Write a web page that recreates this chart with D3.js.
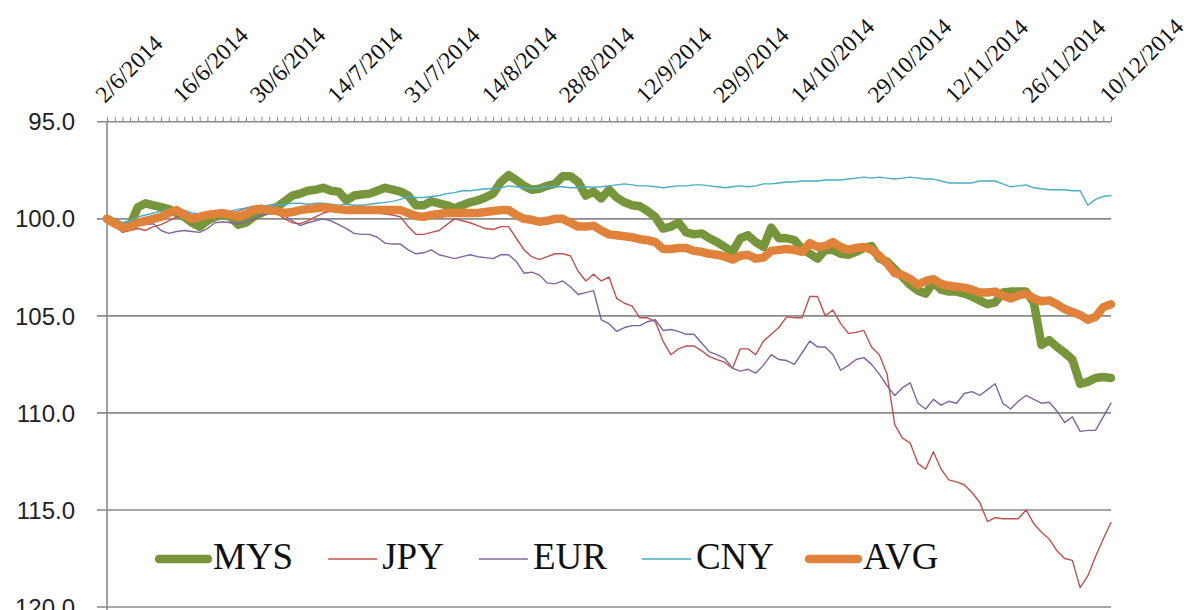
<!DOCTYPE html>
<html><head><meta charset="utf-8">
<script src="https://cdn.jsdelivr.net/npm/d3@7/dist/d3.min.js"></script>
<style>body{margin:0;background:#fff;} svg{display:block}</style>
</head><body><svg id="c" width="1189" height="610"></svg>
<script>
// ---- data ----
const tickLabels = ["2/6/2014","16/6/2014","30/6/2014","14/7/2014","31/7/2014","14/8/2014","28/8/2014",
  "12/9/2014","29/9/2014","14/10/2014","29/10/2014","12/11/2014","26/11/2014","10/12/2014"];
const labelEvery = 10;
const yTicks = [95, 100, 105, 110, 115, 120];
const seriesNames = ["MYS", "JPY", "EUR", "CNY", "AVG"];

const MYS = [100.0,100.2,100.4,100.3,99.4,99.2,99.3,99.4,99.5,99.7,
 99.9,100.2,100.4,100.1,99.9,99.8,99.9,100.3,100.2,99.9,
 99.7,99.5,99.4,99.1,98.8,98.7,98.55,98.5,98.4,98.55,
 98.6,99.05,98.8,98.75,98.7,98.55,98.4,98.5,98.6,98.8,
 99.3,99.3,99.1,99.2,99.3,99.45,99.3,99.15,99.05,98.9,
 98.7,98.1,97.75,98.0,98.3,98.5,98.45,98.3,98.2,97.8,
 97.8,98.1,98.8,98.6,98.95,98.5,98.9,99.15,99.3,99.35,
 99.6,99.9,100.5,100.4,100.2,100.7,100.8,100.75,101.0,101.2,
 101.45,101.7,101.0,100.85,101.2,101.45,100.45,101.0,101.0,101.1,
 101.55,101.8,102.05,101.6,101.6,101.8,101.85,101.7,101.5,101.4,
 102.05,102.2,102.6,103.0,103.4,103.7,103.85,103.25,103.65,103.75,
 103.75,103.85,104.0,104.2,104.4,104.3,103.8,103.75,103.75,103.75,
 104.3,106.5,106.25,106.6,106.9,107.25,108.5,108.4,108.2,108.15,108.2];

const JPY = [100.0,100.3,100.7,100.6,100.5,100.6,100.4,100.3,100.1,99.9,
 99.8,100.0,99.95,99.8,99.75,99.7,99.75,99.6,99.45,99.35,
 99.3,99.4,99.7,100.0,100.2,100.25,100.1,99.9,99.7,99.6,
 99.55,99.6,99.65,99.6,99.65,99.7,99.75,99.8,99.9,100.4,
 100.8,100.8,100.7,100.6,100.3,100.0,100.1,100.2,100.35,100.5,
 100.55,100.4,100.4,101.0,101.6,101.95,102.1,101.95,101.8,101.8,
 101.9,102.7,103.2,102.85,103.2,103.0,104.1,104.35,104.5,105.1,
 105.1,105.3,106.3,107.0,106.7,106.55,106.55,106.8,107.1,107.25,
 107.4,107.7,106.7,106.7,107.0,106.3,105.95,105.6,105.05,105.1,
 105.1,104.0,104.0,105.0,104.7,105.4,105.9,105.85,105.75,106.6,
 107.0,108.0,110.6,111.3,111.55,112.6,112.9,112.0,112.9,113.45,
 113.55,113.7,114.1,114.6,115.6,115.4,115.45,115.45,115.45,115.0,
 115.7,116.15,116.5,117.1,117.5,117.6,119.0,118.4,117.4,116.5,115.65];

const EUR = [100.0,100.25,100.45,100.5,100.35,100.3,100.25,100.6,100.75,100.65,
 100.6,100.65,100.7,100.5,100.2,100.15,100.2,100.25,100.15,100.0,
 99.8,99.75,99.7,99.85,100.1,100.35,100.2,100.1,100.0,100.1,
 100.3,100.5,100.75,100.8,100.8,100.95,101.25,101.3,101.3,101.6,
 101.8,101.75,101.6,101.85,101.95,102.05,101.95,101.85,101.95,102.0,
 102.05,101.85,101.85,102.2,102.8,102.75,102.9,103.3,103.35,103.2,
 103.5,103.9,103.8,103.7,105.2,105.4,105.8,105.6,105.5,105.5,
 105.3,105.2,105.75,105.7,105.8,105.95,105.95,106.4,106.85,107.0,
 107.2,107.7,107.85,107.75,107.95,107.55,107.0,107.25,107.3,107.5,
 106.9,106.3,106.6,106.6,107.0,107.8,107.55,107.25,107.15,107.5,
 108.0,108.6,109.1,108.7,108.45,109.5,109.8,109.3,109.6,109.4,
 109.5,109.0,108.9,109.1,108.8,108.5,109.5,109.8,109.4,109.1,
 109.3,109.5,109.45,109.9,110.5,110.2,110.95,110.9,110.9,110.2,109.5];

const CNY = [100.0,100.1,100.2,100.1,99.9,99.8,99.7,99.6,99.5,99.45,
 99.55,99.7,99.75,99.7,99.6,99.55,99.6,99.5,99.45,99.4,
 99.35,99.3,99.3,99.25,99.2,99.2,99.25,99.2,99.2,99.25,
 99.3,99.25,99.3,99.3,99.25,99.2,99.15,99.1,99.0,98.85,
 98.9,98.9,98.85,98.8,98.7,98.65,98.55,98.55,98.5,98.45,
 98.45,98.4,98.3,98.35,98.4,98.45,98.4,98.35,98.35,98.35,
 98.4,98.4,98.35,98.37,98.35,98.3,98.25,98.2,98.25,98.3,
 98.3,98.35,98.4,98.35,98.3,98.3,98.25,98.25,98.3,98.35,
 98.4,98.35,98.3,98.35,98.3,98.2,98.2,98.15,98.1,98.1,
 98.05,98.05,98.05,98.0,98.0,98.0,97.95,97.9,97.85,97.9,
 97.85,97.9,97.95,97.9,97.85,97.9,97.95,97.95,98.05,98.15,
 98.15,98.15,98.15,98.05,98.05,98.05,98.2,98.35,98.3,98.25,
 98.4,98.45,98.5,98.5,98.5,98.55,98.55,99.3,99.0,98.85,98.8];

const AVG = [100.0,100.25,100.45,100.4,100.2,100.1,100.0,99.9,99.7,99.55,
 99.8,100.0,99.9,99.8,99.75,99.7,99.8,99.9,99.75,99.55,
 99.5,99.55,99.6,99.7,99.65,99.55,99.5,99.45,99.4,99.45,
 99.5,99.55,99.55,99.55,99.55,99.55,99.55,99.55,99.55,99.7,
 99.85,99.9,99.8,99.75,99.7,99.7,99.7,99.7,99.7,99.65,
 99.6,99.55,99.55,99.8,100.0,100.05,100.15,100.1,100.0,100.0,
 100.2,100.4,100.4,100.35,100.6,100.8,100.85,100.9,100.95,101.05,
 101.1,101.2,101.55,101.55,101.5,101.5,101.65,101.7,101.8,101.85,
 101.95,102.1,101.9,101.85,102.05,102.0,101.65,101.6,101.55,101.6,
 101.7,101.25,101.45,101.4,101.2,101.45,101.6,101.5,101.45,101.6,
 101.9,102.3,102.8,102.9,103.1,103.4,103.2,103.1,103.35,103.45,
 103.5,103.55,103.65,103.8,103.8,103.75,103.95,104.1,103.95,103.85,
 104.1,104.25,104.2,104.4,104.65,104.8,104.95,105.2,105.05,104.55,104.4];

const seriesValues = [MYS, JPY, EUR, CNY, AVG];

// ---- styles ----
const styles = {
  MYS: {color: "#77953B", width: 8.5},
  JPY: {color: "#C0504D", width: 1.4},
  EUR: {color: "#8064A2", width: 1.4},
  CNY: {color: "#4BACC6", width: 1.4},
  AVG: {color: "#E1823A", width: 8.5}
};
const gridColor = "#8a8a8a";

const svg = d3.select("#c");
const n = MYS.length;
const x = d3.scaleLinear().domain([0, n - 1]).range([107, 1111]);
const y = d3.scaleLinear().domain([95, 120]).range([121.8, 607]);

// horizontal gridlines
svg.append("g").selectAll("line").data(yTicks.slice(1)).join("line")
  .attr("x1", 97).attr("x2", x(n - 1))
  .attr("y1", d => y(d)).attr("y2", d => y(d))
  .attr("stroke", gridColor).attr("stroke-width", 1.6);

// left axis line
svg.append("line").attr("x1", x(0)).attr("x2", x(0))
  .attr("y1", y(95)).attr("y2", 612)
  .attr("stroke", gridColor).attr("stroke-width", 1.6);

// top axis with category ticks
const xAxis = d3.axisTop(x).tickValues(d3.range(n)).tickSize(5).tickSizeOuter(0).tickFormat("");
const gx = svg.append("g").attr("transform", `translate(0,${y(95)})`).call(xAxis);
gx.select(".domain").attr("stroke", gridColor).attr("stroke-width", 1.6).attr("d", `M97,0H${x(n-1)}`);
gx.selectAll(".tick line").attr("stroke", gridColor).attr("stroke-width", 1);

// date labels
svg.append("g").selectAll("text").data(tickLabels).join("text")
  .attr("transform", (d, i) => `translate(${x(i * labelEvery) - 2},104) rotate(-45)`)
  .attr("font-family", "Liberation Serif, serif").attr("font-size", 23.5)
  .attr("fill", "#111").text(d => d);

// y labels
svg.append("g").selectAll("text").data(yTicks).join("text")
  .attr("x", 75).attr("y", d => y(d)).attr("dy", "0.36em")
  .attr("text-anchor", "end")
  .attr("font-family", "Liberation Sans, Arial, sans-serif").attr("font-size", 24)
  .attr("fill", "#222").text(d => d.toFixed(1));

// lines
const line = d3.line().x((d, i) => x(i)).y(d => y(d)).curve(d3.curveLinear);
seriesNames.forEach((name, k) => {
  svg.append("path").datum(seriesValues[k])
    .attr("d", line).attr("fill", "none")
    .attr("stroke", styles[name].color).attr("stroke-width", styles[name].width)
    .attr("stroke-linejoin", "round").attr("stroke-linecap", "round");
});

// legend
const lg = svg.append("g");
let cx = 159;
const lineY = 559, baseY = 569;
seriesNames.forEach(name => {
  const st = styles[name];
  const thick = st.width > 3;
  lg.append("line").attr("x1", cx).attr("x2", cx + 49)
    .attr("y1", lineY).attr("y2", lineY)
    .attr("stroke", st.color).attr("stroke-width", st.width)
    .attr("stroke-linecap", thick ? "round" : "butt");
  const t = lg.append("text").attr("x", cx + 54).attr("y", baseY)
    .attr("font-family", "Liberation Serif, serif").attr("font-size", 37)
    .attr("fill", "#111").text(name);
  const w = t.node().getComputedTextLength();
  cx = cx + 54 + w + 35;
});
</script></body></html>
